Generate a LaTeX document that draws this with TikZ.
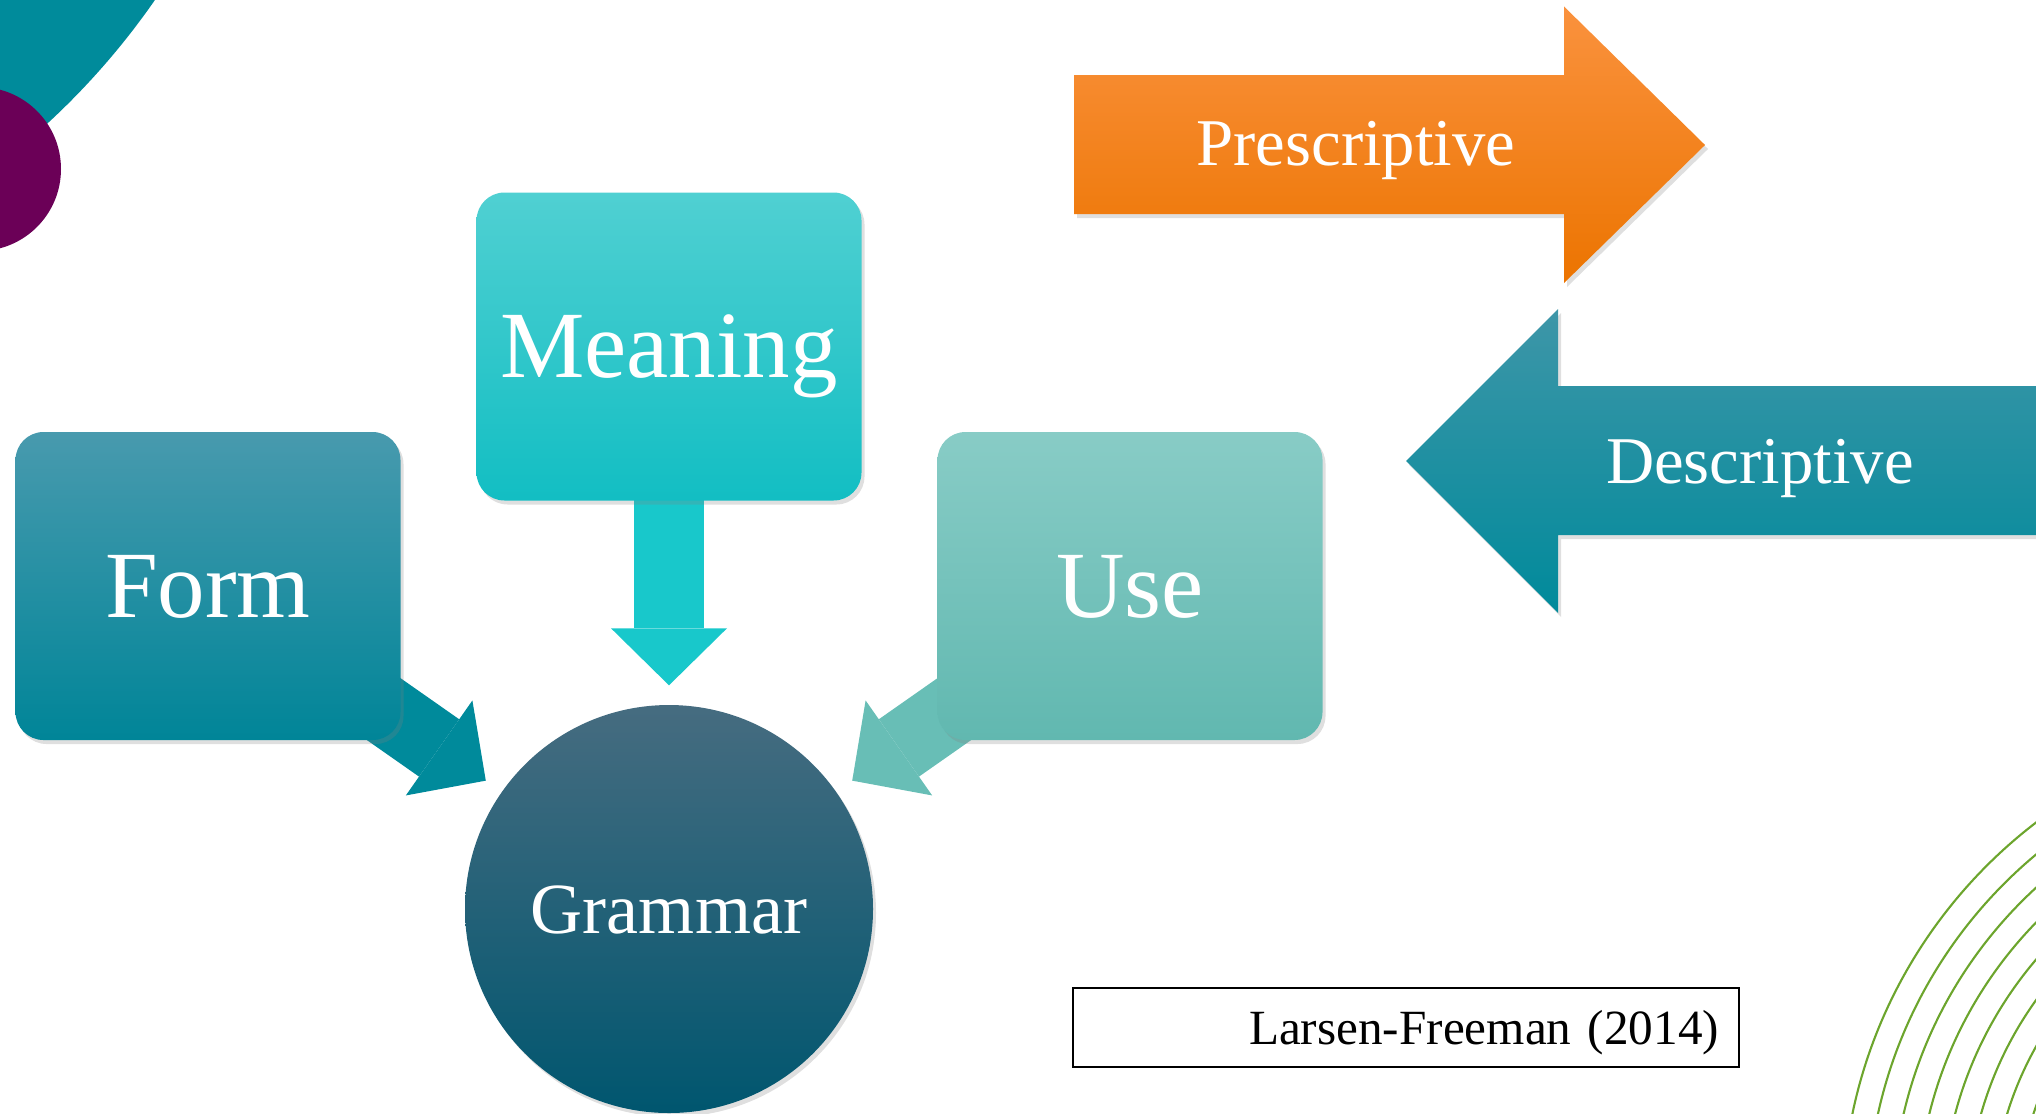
\documentclass[tikz,border=0pt]{standalone}
\usepackage{fontspec}
\setmainfont{Liberation Serif}
\usetikzlibrary{arrows.meta,shadows,backgrounds}

\definecolor{decoteal}{RGB}{0,139,155}
\definecolor{decoplum}{RGB}{107,0,87}
\definecolor{decogreen}{RGB}{108,165,45}
\definecolor{formtop}{RGB}{72,154,174}
\definecolor{formmid}{RGB}{0,142,160}
\definecolor{formbot}{RGB}{0,133,152}
\definecolor{meantop}{RGB}{80,208,210}
\definecolor{meanbot}{RGB}{18,190,195}
\definecolor{usetop}{RGB}{136,204,198}
\definecolor{usebot}{RGB}{97,184,176}
\definecolor{gramtop}{RGB}{70,108,128}
\definecolor{grambot}{RGB}{0,86,111}
\definecolor{formarrow}{RGB}{0,138,155}
\definecolor{meanarrow}{RGB}{24,200,203}
\definecolor{usearrow}{RGB}{104,190,182}
\definecolor{prestop}{RGB}{250,146,62}
\definecolor{presmid}{RGB}{250,128,5}
\definecolor{presbot}{RGB}{236,116,0}
\definecolor{desctop}{RGB}{62,150,168}
\definecolor{descbot}{RGB}{0,138,155}

\begin{document}
\begin{tikzpicture}
    \tikzstyle{softshadow}=[drop shadow={opacity=0.25,shadow xshift=0.03cm,shadow yshift=-0.04cm}]
    \tikzstyle{block}=[rounded corners=0.28cm,minimum width=3.85cm,minimum height=3.08cm,inner sep=0pt,
        text=white,font=\fontsize{27}{32}\selectfont,text height=0.62cm,text depth=0pt,softshadow]
    \tikzstyle{feed}=[line width=0.7cm,-{Triangle[length=0.57cm,width=1.16cm,line width=0pt]},shorten >=0.19cm]
    \tikzstyle{banner}=[text=white,font=\fontsize{19}{23}\selectfont,text height=0.44cm,text depth=0pt]

    \useasboundingbox (0,0) rectangle (20.36,11.13);

    % corner decorations
    \begin{scope}
        \clip (0,0) rectangle (20.36,11.13);
        \fill[decoteal] (-4.56,15.36) circle (7.43);
        \fill[decoplum] (-0.21,9.44) circle (0.82);
        \foreach \k in {0,...,7}
            \draw[decogreen,line width=0.6pt] (23.36,-1.02) circle ({4.94-0.25*\k});
    \end{scope}

    \node[block,top color=formtop,middle color=formmid,bottom color=formbot] (form) at (2.08,5.27) {Form};
    \node[block,top color=meantop,bottom color=meanbot] (meaning) at (6.69,7.665) {Meaning};
    \node[block,top color=usetop,bottom color=usebot] (use) at (11.30,5.27) {Use};
    \node[circle,minimum size=4.08cm,inner sep=0pt,text=white,font=\fontsize{20.5}{24}\selectfont,
        text height=0.48cm,text depth=0pt,top color=gramtop,middle color=grambot,bottom color=grambot,
        softshadow] (gram) at (6.69,2.04) {Grammar};

    \begin{scope}[on background layer]
        \draw[feed,formarrow] (form.center) -- (gram);
        \draw[feed,meanarrow] (meaning.center) -- (gram);
        \draw[feed,usearrow] (use.center) -- (gram);
    \end{scope}

    % the two banners
    \shade[top color=prestop,middle color=presmid,bottom color=presbot,softshadow]
        (10.74,10.38) -- (15.64,10.38) -- (15.64,11.065) -- (17.05,9.68)
        -- (15.64,8.30) -- (15.64,8.99) -- (10.74,8.99) -- cycle;
    \node[banner] (presc) at (13.56,9.695) {Prescriptive};

    \shade[top color=desctop,bottom color=descbot,softshadow]
        (20.36,7.27) -- (15.58,7.27) -- (15.58,8.04) -- (14.06,6.52)
        -- (15.58,5.00) -- (15.58,5.78) -- (20.36,5.78) -- cycle;
    \node[banner] (desc) at (17.60,6.52) {Descriptive};

    \node[draw=black,line width=0.6pt,minimum width=6.66cm,minimum height=0.79cm,inner xsep=0.2cm,
        text width=6.26cm,align=right,font=\fontsize{14}{17}\selectfont,text height=0.33cm,text depth=0pt]
        (cite) at (14.06,0.855) {Larsen-Freeman (2014)};
\end{tikzpicture}
\end{document}
